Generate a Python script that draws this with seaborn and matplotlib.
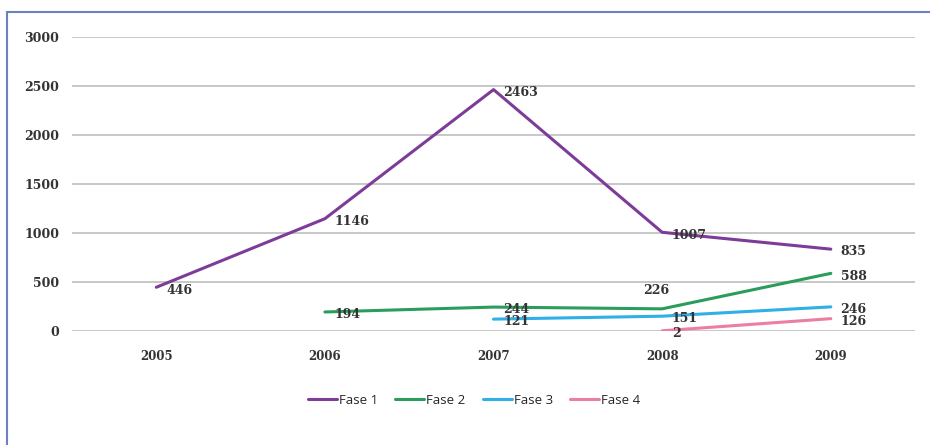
import matplotlib
matplotlib.use("Agg")
import matplotlib.pyplot as plt
from matplotlib.lines import Line2D
import seaborn as sns
import pandas as pd

years = ["2005", "2006", "2007", "2008", "2009"]
fase1 = [446, 1146, 2463, 1007, 835]
fase2 = [None, 194, 244, 226, 588]
fase3 = [None, None, 121, 151, 246]
fase4 = [None, None, None, 2, 126]
series_names = ["Fase 1", "Fase 2", "Fase 3", "Fase 4"]
colors = ["#7d3c98", "#2a9d5c", "#2fb0e6", "#ea7f9f"]
yticks = [0, 500, 1000, 1500, 2000, 2500, 3000]

rows = []
for name, vals in zip(series_names, [fase1, fase2, fase3, fase4]):
    for i, v in enumerate(vals):
        if v is not None:
            rows.append({"pos": i, "year": years[i], "value": v, "serie": name})
df = pd.DataFrame(rows)

sns.set_theme(style="white")
fig = plt.figure(figsize=(9.3, 4.45), dpi=100)
ax = fig.add_axes([0.0774, 0.2562, 0.9066, 0.6607])

sns.lineplot(data=df, x="pos", y="value", hue="serie", hue_order=series_names,
             palette=colors, linewidth=2.2, ax=ax, legend=True)

ax.set_xlim(-0.5, 4.5)
ax.set_ylim(0, 3000)
ax.set_yticks(yticks)
ax.set_yticklabels([str(t) for t in yticks], fontsize=9, fontweight="bold",
                   family="DejaVu Serif", color="#333333")
ax.set_xticks(range(len(years)))
ax.set_xticklabels(years, fontsize=8.5, fontweight="bold", family="DejaVu Serif",
                   color="#333333")
ax.tick_params(axis="y", length=0, pad=9)
ax.tick_params(axis="x", length=0, pad=14)
ax.set_xlabel("")
ax.set_ylabel("")
for s in ax.spines.values():
    s.set_visible(False)
ax.yaxis.grid(True, color="#c8c8c8", linewidth=1.4)
ax.set_axisbelow(True)

# data labels
for _, r in df.iterrows():
    if r["serie"] == "Fase 2" and r["year"] == "2008":
        ax.annotate(str(r["value"]), (r["pos"], r["value"]), xytext=(-4, 13),
                    textcoords="offset points", ha="center", va="center",
                    fontsize=9, fontweight="bold", family="DejaVu Serif",
                    color="#333333")
    else:
        ax.annotate(str(r["value"]), (r["pos"], r["value"]), xytext=(7, -2),
                    textcoords="offset points", ha="left", va="center",
                    fontsize=9, fontweight="bold", family="DejaVu Serif",
                    color="#333333")

handles, labels = ax.get_legend_handles_labels()
ax.legend(handles, labels, loc="center", bbox_to_anchor=(0.477, -0.235), ncol=4,
          frameon=False, handlelength=2.2, handletextpad=0.15,
          columnspacing=1.3, prop={"family": "Open Sans", "size": 9.5})

# frame lines along the left and top edges
fig.add_artist(Line2D([7 / 930, 7 / 930], [0, 1 - 12 / 445], color="#6f80c0",
                      linewidth=1.5, transform=fig.transFigure))
fig.add_artist(Line2D([7 / 930, 1], [1 - 12 / 445, 1 - 12 / 445], color="#6f80c0",
                      linewidth=1.5, transform=fig.transFigure))

fig.savefig("out.png", dpi=100)
